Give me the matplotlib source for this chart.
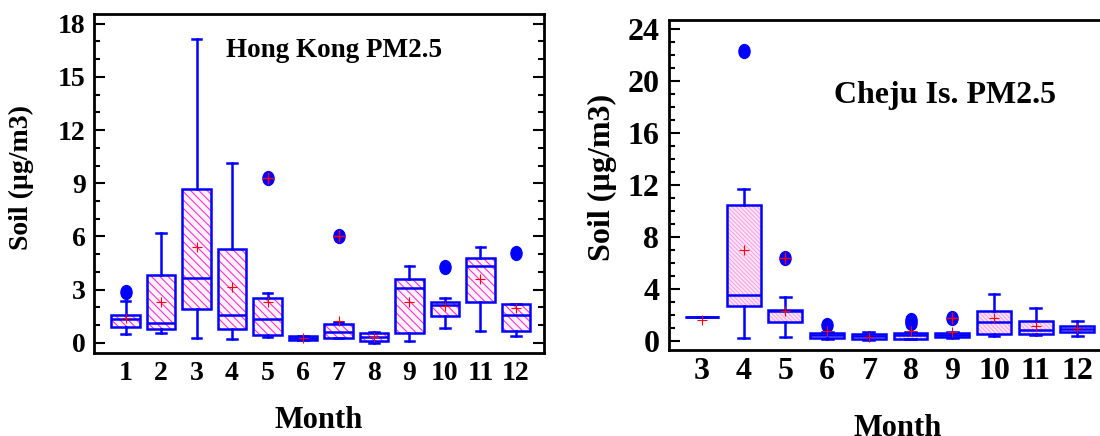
import matplotlib.pyplot as plt
from matplotlib.path import Path
from matplotlib.patches import PathPatch
from matplotlib.transforms import Affine2D
from matplotlib.ticker import MultipleLocator

plt.rcParams['font.family'] = ['Liberation Serif', 'DejaVu Serif']
plt.rcParams['font.weight'] = 'bold'
plt.rcParams['axes.labelweight'] = 'bold'
plt.rcParams['hatch.linewidth'] = 0.8

# Hong Kong PM2.5 soil (ug/m3), monthly box statistics
hk_months = [1, 2, 3, 4, 5, 6, 7, 8, 9, 10, 11, 12]
hk_low = [0.51, 0.56, 0.28, 0.21, 0.34, 0.15, 0.24, 0.00, 0.11, 0.81, 0.68, 0.40]
hk_q1 = [0.90, 0.77, 1.92, 0.77, 0.43, 0.18, 0.28, 0.11, 0.53, 1.50, 2.31, 0.68]
hk_med = [1.32, 1.13, 3.67, 1.56, 1.32, 0.28, 0.58, 0.34, 3.07, 2.13, 4.34, 1.56]
hk_q3 = [1.54, 3.82, 8.67, 5.28, 2.54, 0.40, 1.03, 0.56, 3.57, 2.31, 4.80, 2.18]
hk_high = [2.35, 6.17, 17.13, 10.14, 2.80, 0.40, 1.18, 0.62, 4.33, 2.54, 5.42, 2.18]
hk_mean = [1.38, 2.28, 5.38, 3.12, 2.28, 0.28, 1.25, 0.34, 2.28, 2.07, 3.57, 1.94]
hk_out = [[2.84], [], [], [], [9.27], [], [6.02], [], [], [4.29], [], [5.04]]
hk_far = [[], [], [], [], [9.27], [], [6.02], [], [], [], [], []]

# Cheju Is. PM2.5 soil (ug/m3), monthly box statistics
cj_months = [3, 4, 5, 6, 7, 8, 9, 10, 11, 12]
cj_low = [1.82, 0.20, 0.31, 0.18, 0.05, 0.15, 0.20, 0.36, 0.49, 0.36]
cj_q1 = [1.82, 2.72, 1.43, 0.25, 0.18, 0.18, 0.28, 0.56, 0.56, 0.72]
cj_med = [1.82, 3.51, 2.28, 0.46, 0.36, 0.46, 0.43, 1.48, 0.87, 0.95]
cj_q3 = [1.82, 10.43, 2.36, 0.64, 0.56, 0.64, 0.59, 2.28, 1.51, 1.18]
cj_high = [1.82, 11.69, 3.41, 0.70, 0.72, 0.70, 0.65, 3.59, 2.51, 1.56]
cj_mean = [1.64, 7.03, 2.28, 0.74, 0.30, 0.80, 0.70, 1.77, 1.12, 1.00]
cj_out = [[], [22.3], [6.40], [1.25], [], [1.35, 1.60], [1.79], [], [], []]
cj_far = [[], [], [6.40], [], [], [], [1.79], [], [], []]

BLUE = '#0000ff'
oval = Path.unit_circle().transformed(Affine2D().scale(0.8, 1.0))


def draw_boxes(ax, months, low, q1, med, q3, high, mean, out, far,
               hatch, hatch_color, face):
    stats = []
    for i in range(len(months)):
        stats.append(dict(whislo=low[i], q1=q1[i], med=med[i], q3=q3[i],
                          whishi=high[i], mean=mean[i], fliers=out[i]))
    lw = 1.8
    art = ax.bxp(stats, positions=months, widths=0.81, capwidths=0.26,
                 patch_artist=True, showmeans=True, showfliers=True,
                 whiskerprops=dict(color=BLUE, lw=lw),
                 capprops=dict(color=BLUE, lw=lw),
                 medianprops=dict(color=BLUE, lw=lw),
                 flierprops=dict(marker=oval, markersize=10, markerfacecolor=BLUE,
                                 markeredgecolor=BLUE, linestyle='none'),
                 meanprops=dict(marker='+', markersize=7, markeredgecolor='red',
                                markeredgewidth=0.8))
    # hatched fill underneath, solid blue outline on top
    for b in art['boxes']:
        b.set(facecolor=face, edgecolor=hatch_color, hatch=hatch, linewidth=0)
        ax.add_patch(PathPatch(b.get_path(), fill=False, edgecolor=BLUE,
                               lw=lw, zorder=b.get_zorder() + 0.1))
    for m in art['means']:
        m.set_zorder(5)
    for pos, pts in zip(months, far):
        if pts:
            ax.plot([pos] * len(pts), pts, ls='none', marker='+', ms=9,
                    mec='red', mew=1.0, zorder=6)


def style_axes(ax, major, ymin, ymax, xmin, xmax, size, ypad, xpad):
    ax.set_ylim(ymin, ymax)
    ax.set_xlim(xmin, xmax)
    ax.yaxis.set_major_locator(MultipleLocator(major))
    ax.yaxis.set_minor_locator(MultipleLocator(1))
    ax.tick_params(axis='y', which='both', direction='in', left=True, right=True,
                   width=1.5, labelsize=size, pad=ypad)
    ax.tick_params(axis='y', which='major', length=8)
    ax.tick_params(axis='y', which='minor', length=4)
    ax.tick_params(axis='x', length=0, labelsize=size, pad=xpad)
    for s in ax.spines.values():
        s.set_linewidth(2)


fig = plt.figure(figsize=(11, 4.36), dpi=100)

ax1 = fig.add_axes([94 / 1100, 83 / 436, 450 / 1100, 339 / 436])
draw_boxes(ax1, hk_months, hk_low, hk_q1, hk_med, hk_q3, hk_high, hk_mean,
           hk_out, hk_far, '\\\\\\\\', '#ff33cc', '#fff2fb')
style_axes(ax1, 3, -0.58, 18.55, 0.11, 12.79, 20, 6, 6)
ax1.set_xticks(hk_months, [str(m) for m in hk_months])
ax1.set_ylabel('Soil (\u00b5g/m3)', fontsize=20, va='center')
ax1.yaxis.set_label_coords(-0.162, 0.519)
ax1.set_xlabel('Month', fontsize=22, va='baseline')
ax1.xaxis.set_label_coords(0.5, -0.221)
fig.text(334 / 1100, 1 - 56.7 / 436, 'Hong Kong PM2.5', fontsize=19.5,
         ha='center', va='baseline')

ax2 = fig.add_axes([669 / 1100, 86 / 436, 458 / 1100, 330 / 436])
draw_boxes(ax2, cj_months, cj_low, cj_q1, cj_med, cj_q3, cj_high, cj_mean,
           cj_out, cj_far, '\\\\\\\\\\\\\\\\', '#f7a6e2', '#fde6f6')
style_axes(ax2, 4, -0.7, 24.7, 2.21, 13.19, 23, 7, 5)
ax2.set_xticks(cj_months, [str(m) for m in cj_months])
ax2.set_ylabel('Soil (\u00b5g/m3)', fontsize=23, va='center')
ax2.yaxis.set_label_coords(-0.146, 0.524)
ax2.set_xlabel('Month', fontsize=22, va='baseline')
ax2.xaxis.set_label_coords(0.5, -0.262)
fig.text(945 / 1100, 1 - 103 / 436, 'Cheju Is. PM2.5', fontsize=23,
         ha='center', va='baseline')

fig.savefig('out.png', dpi=100)
